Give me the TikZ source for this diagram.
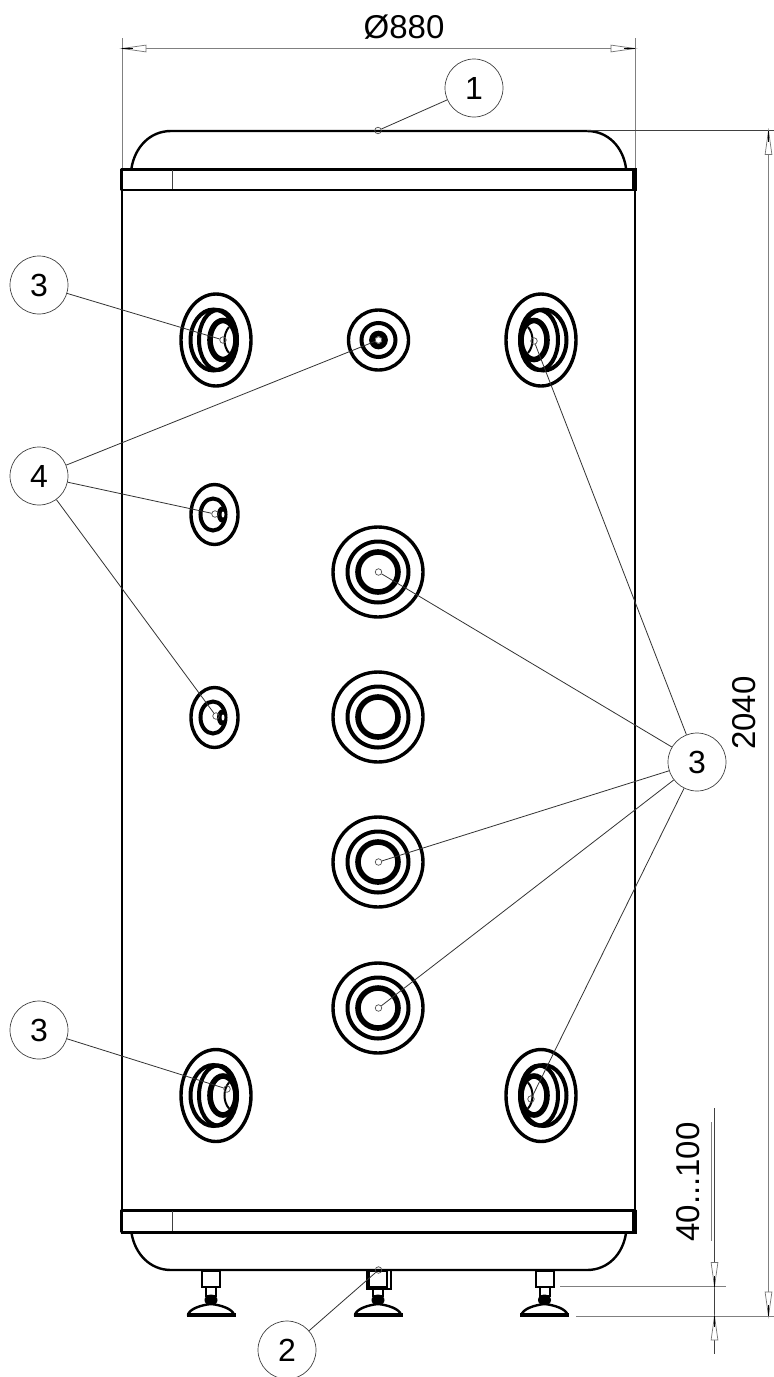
\documentclass[tikz,border=0pt]{standalone}
\usepackage{fontspec}
\setmainfont{Liberation Sans}
\tikzset{
  x=1pt,y=-1pt,
  heavy/.style={line width=2.4pt,black},
  band/.style={line width=2.2pt,black},
  ringa/.style={line width=3.4pt,black},
  ringb/.style={line width=4pt,black},
  ringc/.style={line width=5.6pt,black},
  thinline/.style={line width=0.8pt,black!75},
  dimline/.style={line width=0.9pt,black!50},
  leader/.style={line width=0.8pt,black!80},
  balloon/.style={circle,draw=black!75,line width=0.7pt,minimum size=58pt,inner sep=0pt,font=\fontsize{32}{32}\selectfont},
  target/.style={circle,draw=black!70,line width=0.7pt,minimum size=6.5pt,inner sep=0pt},
  dimtext/.style={inner sep=0pt,font=\fontsize{33}{33}\selectfont},
  dimtip/.pic={
    \draw[line width=0.7pt,black!55,fill=white] (0,0) -- (24,3.4) -- (24,-3.4) -- cycle;
    \draw[line width=1.2pt,black] (0,0) -- (11,0);
  },
  flange/.pic={
    \draw[ringa] (0,0) ellipse [x radius=35,y radius=46];
    \draw[ringb] (-2.5,0) ellipse [x radius=23,y radius=30.5];
    \draw[ringb] (2,0) ellipse [x radius=19,y radius=30];
    \draw[ringc] (7,0) ellipse [x radius=13,y radius=19.5];
    \draw[line width=2pt] (13,-13) .. controls (7,-6) and (7,6) .. (13,13);
  },
  smallflange/.pic={
    \draw[ringa] (0,0) ellipse [x radius=23.5,y radius=30];
    \draw[ringb] (-1.5,0) ellipse [x radius=12.5,y radius=16];
    \fill (7.5,0) ellipse [x radius=5,y radius=8];
    \fill[white] (8.5,0) ellipse [x radius=1.5,y radius=3];
  },
  bigring/.pic={
    \draw[ringa] (0,0) circle [radius=45];
    \draw[ringb] (0,0) circle [radius=30.5];
    \draw[ringc] (0,0) circle [radius=20];
  },
  foot/.pic={
    \draw[line width=2pt,fill=white] (-9,1) rectangle (9,17);
    \draw[line width=2pt,fill=white] (-5,17) rectangle (5,26);
    \fill (0,30) ellipse [x radius=6.5,y radius=5.5];
    \draw[line width=2.4pt,fill=white,line join=round] (-23,45) .. controls (-22,39) and (-10,35) .. (0,34) .. controls (10,35) and (22,39) .. (23,45) -- cycle;
    \fill (-24.5,42.5) rectangle (24.5,46.5);
  }
}
\begin{document}
\begin{tikzpicture}
\useasboundingbox (0,0) rectangle (774,1377);
\fill[white] (0,0) rectangle (774,1377);

% domes
\draw[heavy] (131.5,168) .. controls (135,147) and (150,131) .. (171,131) -- (587,131) .. controls (608,131) and (623,147) .. (626,168);
\draw[heavy] (131.5,1233) .. controls (135,1254) and (150,1270) .. (171,1270) -- (587,1270) .. controls (608,1270) and (623,1254) .. (626,1233);

% feet
\pic at (211,1270) {foot};
\pic at (378,1270) {foot};
\pic at (544.5,1270) {foot};
\draw[line width=2pt] (366.5,1271) -- (366.5,1289) -- (390.5,1289) -- (390.5,1271);

% shell
\draw[heavy] (122,190) -- (122,1210);
\draw[heavy] (635,190) -- (635,1210);
% bands
\draw[band,line join=round] (121.5,169.5) rectangle (635.5,190);
\draw[band,line join=round] (121.5,1210.5) rectangle (635.5,1232);
\fill (632,168) rectangle (637,191);
\fill (632,1209.5) rectangle (637,1233.5);
\draw[line width=3.4pt] (121,169.2) -- (637,169.2);
\draw[line width=3.6pt] (121,1232.3) -- (637,1232.3);
\draw[thinline] (172,170) -- (172,189);
\draw[thinline] (172,1211) -- (172,1231);

% fittings
\pic at (216,340) {flange};
\pic[xscale=-1] at (541,340) {flange};
\pic at (216,1095.5) {flange};
\pic[xscale=-1] at (541,1095.5) {flange};
\pic at (214.5,514.5) {smallflange};
\pic at (214.5,717.5) {smallflange};
\pic at (378,572) {bigring};
\pic at (378,717) {bigring};
\pic at (378,862) {bigring};
\pic at (378,1008) {bigring};
\draw[ringa] (378.5,340) circle [radius=30];
\draw[ringb] (378.5,340) circle [radius=17];
\draw[line width=5.6pt] (378.5,340) circle [radius=6.5];

% dimensions
\coordinate (dl) at (122,48.5);
\coordinate (dr) at (635,48.5);
\draw[dimline] (122,38) -- (122,168);
\draw[dimline] (635,38) -- (635,168);
\draw[dimline] (dl) -- (dr);
\pic at (dl) {dimtip};
\pic[rotate=180] at (dr) {dimtip};
\node[dimtext] (dia) at (404,27) {Ø880};

\coordinate (ht) at (768.5,130.5);
\coordinate (hb) at (768.5,1316);
\draw[thinline] (587,130.5) -- (774,130.5);
\draw[dimline] (576,1316) -- (774,1316);
\draw[dimline] (ht) -- (hb);
\pic[rotate=-90] at (ht) {dimtip};
\pic[rotate=90] at (hb) {dimtip};
\node[dimtext,rotate=90] (tall) at (744,713) {2040};

\coordinate (ft) at (714.5,1108);
\coordinate (fb) at (714.5,1354);
\coordinate (fa) at (714.5,1286.5);
\coordinate (fc) at (714.5,1316);
\draw[dimline] (560,1286.5) -- (726,1286.5);
\draw[thinline] (ft) -- (fb);
\draw[dimline] (711,1122) -- (711,1241);
\pic[rotate=90] at (fa) {dimtip};
\pic[rotate=-90] at (fc) {dimtip};
\node[dimtext,rotate=90] (adj) at (688,1182) {40...100};

% balloons
\node[balloon] (n1) at (474,88) {1};
\node[balloon] (n3a) at (39,285) {3};
\node[balloon] (n4) at (39,476) {4};
\node[balloon] (n3b) at (39,1030) {3};
\node[balloon] (n3c) at (697,762) {3};
\node[balloon] (n2) at (287,1350) {2};

% leader targets
\node[target] (t1) at (378,130.5) {};
\node[target] (t2) at (378.5,1270) {};
\node[target] (ta) at (223,340) {};
\node[target] (tb) at (227,1089) {};
\node[target] (tc) at (534,341) {};
\node[target] (td) at (378.5,572) {};
\node[target] (te) at (378.5,862) {};
\node[target] (tf) at (378.5,1008) {};
\node[target] (tg) at (531,1099) {};
\node[target] (th) at (378.5,340) {};
\node[target] (ti) at (215,514) {};
\node[target] (tj) at (216,716) {};

\draw[leader] (n1) -- (t1);
\draw[leader] (n2) -- (t2);
\draw[leader] (n3a) -- (ta);
\draw[leader] (n3b) -- (tb);
\draw[leader] (n3c) -- (tc);
\draw[leader] (n3c) -- (td);
\draw[leader] (n3c) -- (te);
\draw[leader] (n3c) -- (tf);
\draw[leader] (n3c) -- (tg);
\draw[leader] (n4) -- (th);
\draw[leader] (n4) -- (ti);
\draw[leader] (n4) -- (tj);
\end{tikzpicture}
\end{document}
